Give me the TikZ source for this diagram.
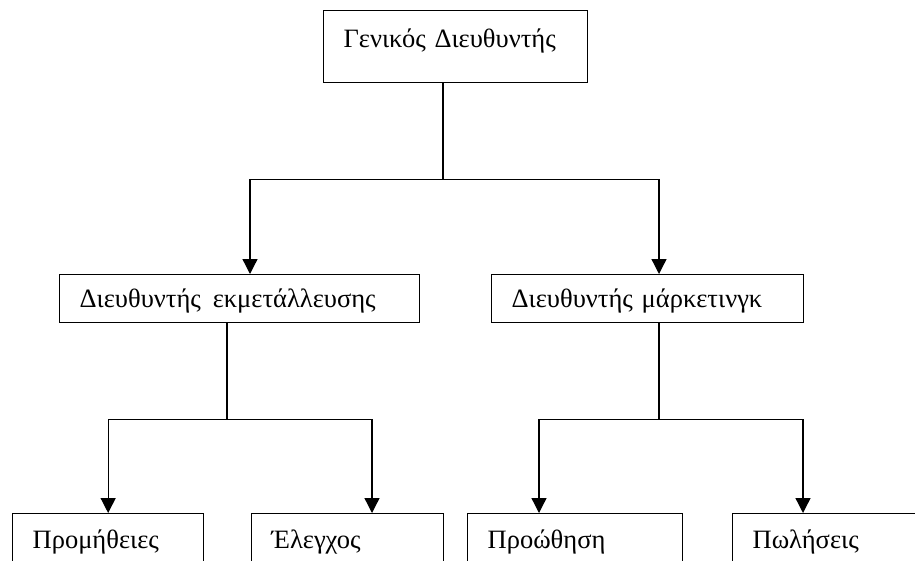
\documentclass[tikz,border=0pt]{standalone}
\usepackage{fontspec}
\setmainfont{Liberation Serif}
\usetikzlibrary{arrows.meta,calc}

\begin{document}
\begin{tikzpicture}[x=1pt,y=-1pt,line width=1.3pt,
  >={Triangle[length=15pt,width=15pt]},
  font=\fontsize{26.5}{30}\selectfont,
  box/.style={draw,anchor=north west,align=left,inner xsep=20pt,inner ysep=0pt},
  midbox/.style={box,text height=33pt,text depth=15pt},
  lowbox/.style={box,text height=35pt,text depth=60pt}]
  \useasboundingbox (0,0) rectangle (915,560);
  \clip (0,0) rectangle (915,560);
  % top
  \node[box,text width=224pt,text height=37pt,text depth=35pt] (gen) at (323,10) {Γενικός Διευθυντής};
  % second level
  \node[midbox,text width=320pt] (ekm) at (59,274) {Διευθυντής\hspace{0.45em}εκμετάλλευσης};
  \node[midbox,text width=272pt] (mkt) at (491,274) {Διευθυντής μάρκετινγκ};
  % third level
  \node[lowbox,text width=151pt] (prom) at (12,513) {Προμήθειες};
  \node[lowbox,text width=152pt] (eleg) at (251,513) {Έλεγχος};
  \node[lowbox,text width=175pt] (proo) at (467,513) {Προώθηση};
  \node[lowbox,text width=190pt] (pol) at (732,513) {Πωλήσεις};
  % connectors
  \draw ([xshift=120pt]gen.south west) -- ++(0,96) coordinate (j1);
  \draw[->] (j1) -| ([xshift=191pt]ekm.north west);
  \draw[->] (j1) -| ([xshift=168pt]mkt.north west);
  \draw ([xshift=168pt]ekm.south west) -- ++(0,96) coordinate (j2);
  \draw[->] (j2) -| (prom.north);
  \draw[->] (j2) -| ([xshift=121pt]eleg.north west);
  \draw ([xshift=168pt]mkt.south west) -- ++(0,96) coordinate (j3);
  \draw[->] (j3) -| ([xshift=72pt]proo.north west);
  \draw[->] (j3) -| ([xshift=71pt]pol.north west);
\end{tikzpicture}
\end{document}
